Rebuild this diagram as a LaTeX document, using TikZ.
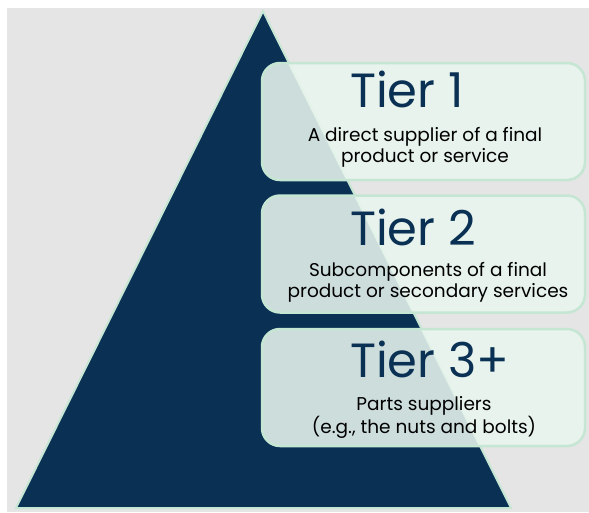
\documentclass[tikz,border=0pt]{standalone}
\usepackage{fontspec}
\setmainfont{Poppins}
\usetikzlibrary{positioning}
\definecolor{navy}{HTML}{0A3154}
\definecolor{mint}{HTML}{E8F5EE}
\definecolor{mintline}{HTML}{C6E6D4}
\definecolor{bggray}{HTML}{E5E5E5}
\tikzset{
  tierbox/.style={draw=mintline, line width=2.5pt, fill=mint, fill opacity=0.88,
    rounded corners=18pt, minimum width=323pt, minimum height=117pt, inner sep=0pt},
  tiertitle/.style={text=navy, font=\fontsize{48}{48}\selectfont, anchor=base west, inner sep=0pt},
  tiertext/.style={text=black, font=\fontsize{18.5}{21}\selectfont, align=center, inner sep=0pt}
}
\begin{document}
\begin{tikzpicture}[x=1pt,y=-1pt]
\useasboundingbox (0,0) rectangle (589,512);
\fill[bggray] (7,8) rectangle (589,512);

% pyramid
\coordinate (apex) at (263,11);
\coordinate (baseR) at (511,508);
\coordinate (baseL) at (16,508);
\filldraw[fill=navy, draw=mintline, line width=2pt] (apex) -- (baseR) -- (baseL) -- cycle;

% tier boxes
\node[tierbox] (tier1) at (423.5,121.5) {};
\node[tierbox] (tier2) at (423.5,254) {};
\node[tierbox] (tier3) at (423.5,387.5) {};

\node[tiertitle] (t1title) at (350,107) {Tier 1};
\node[tiertext] (t1text) at (425,147) {A direct supplier of a final\\product or service};

\node[tiertitle] (t2title) at (350,245) {Tier 2};
\node[tiertext] (t2text) at (428,282.5) {Subcomponents of a final\\product or secondary services};

\node[tiertitle] (t3title) at (350,377) {Tier 3+};
\node[tiertext] (t3text) at (424,417.5) {Parts suppliers\\(e.g., the nuts and bolts)};
\end{tikzpicture}
\end{document}
